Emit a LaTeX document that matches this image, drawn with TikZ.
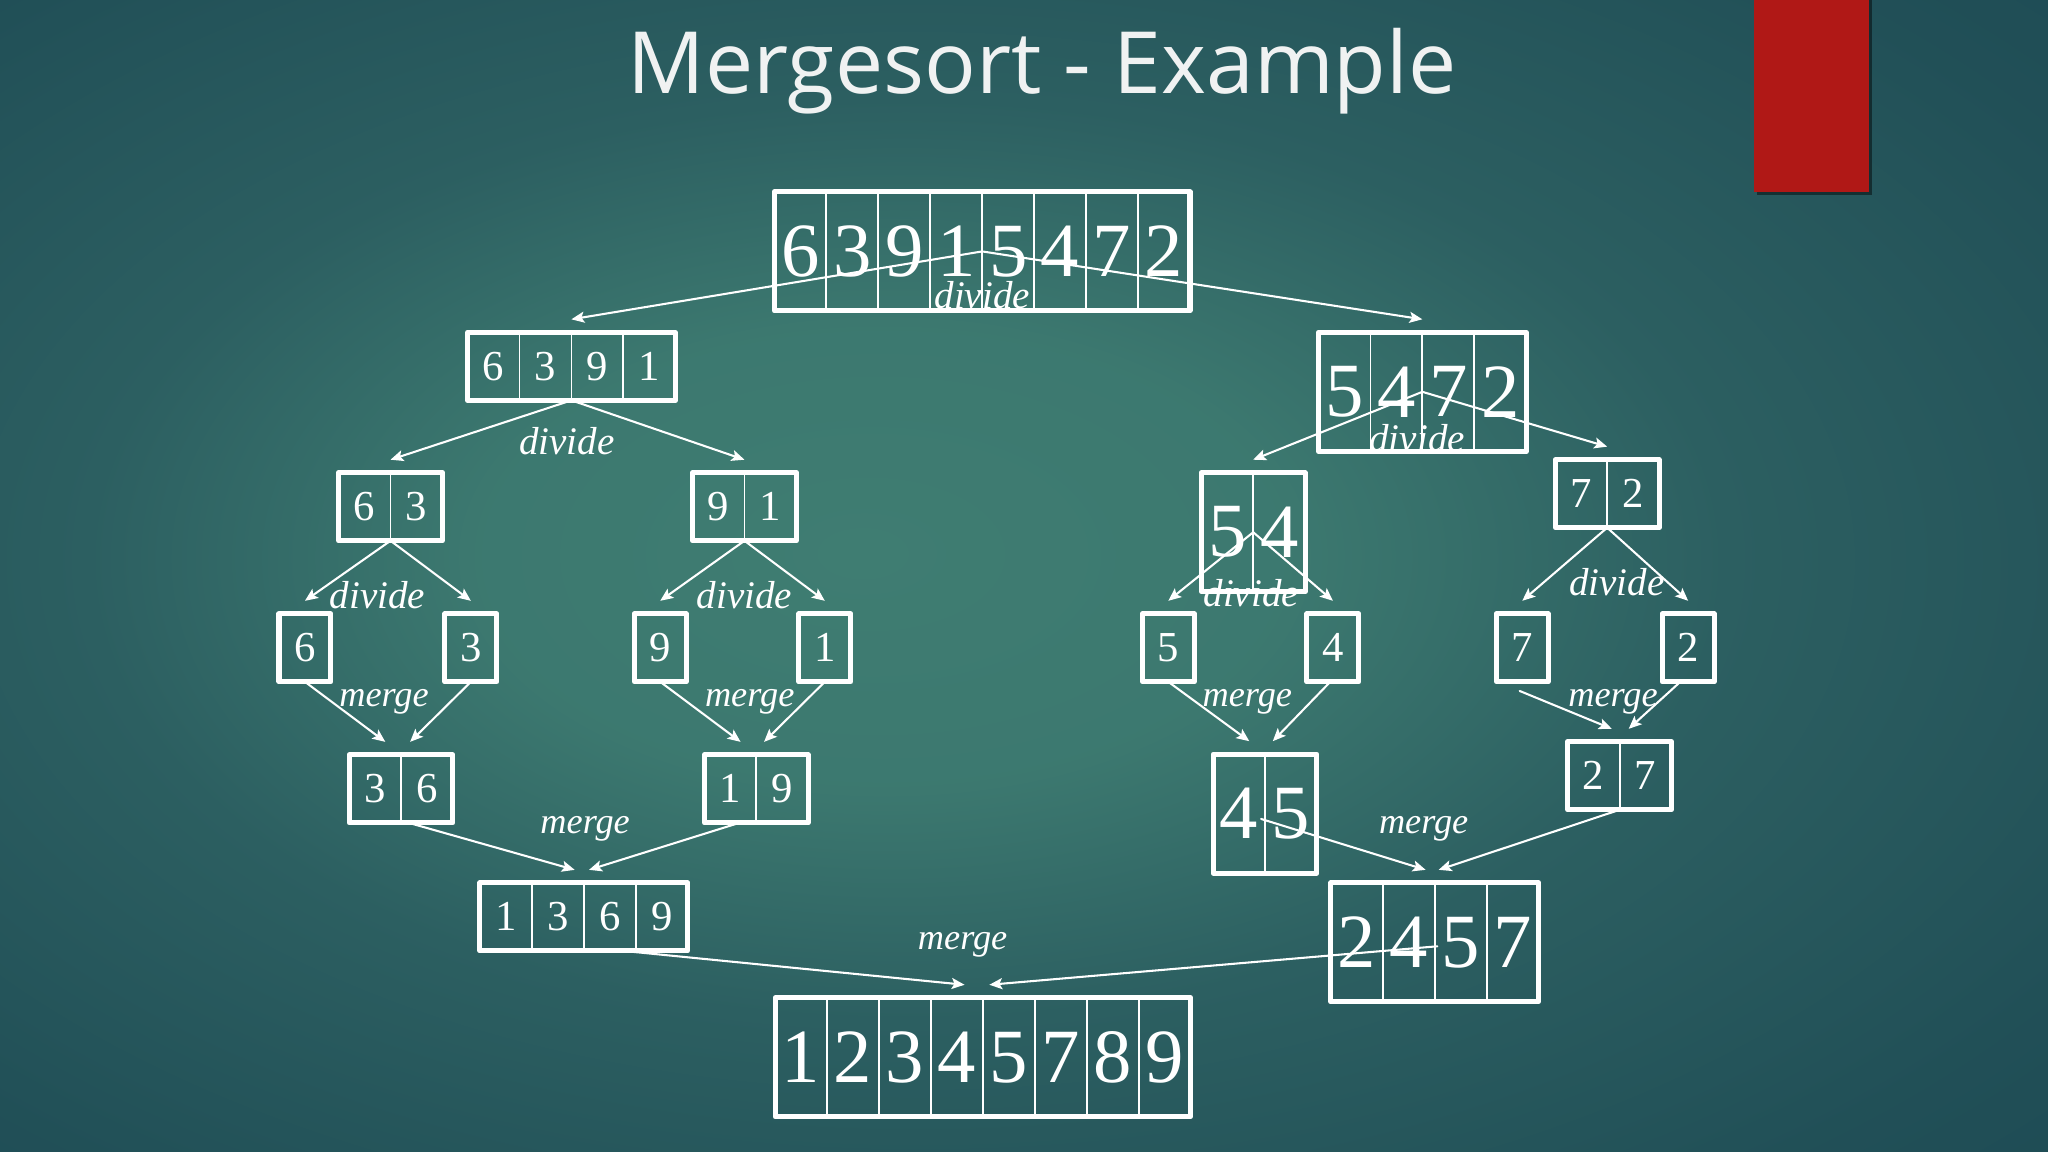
\documentclass[tikz,border=0pt]{standalone}
\usepackage{fontspec}
\setmainfont{Liberation Serif}
\newfontfamily\titlefont{Open Sans}
\usetikzlibrary{arrows.meta}
\definecolor{bgin}{HTML}{3F7D72}
\definecolor{bgmid}{HTML}{2C5F61}
\definecolor{bgout}{HTML}{18434F}
\definecolor{bgcorner}{HTML}{143744}
\definecolor{slidered}{HTML}{B01816}
\definecolor{titlewhite}{HTML}{F0F2F2}
\pgfdeclareradialshading{slidebg}{\pgfpoint{-4bp}{1bp}}{color(0bp)=(bgin); color(10bp)=(bgin!85!bgmid); color(20bp)=(bgmid); color(33bp)=(bgmid!45!bgout); color(50bp)=(bgout); color(70bp)=(bgcorner)}
\tikzset{
	frame/.style={draw=white,line width=1.1pt,inner sep=0pt,outer sep=0pt},
	smallframe/.style={minimum height=0.52cm},
	bigframe/.style={minimum height=0.91cm},
	divider/.style={draw=white,line width=0.4pt},
	digitsmall/.style={font=\fontsize{9.3}{10}\selectfont,text=white,inner sep=0pt},
	digitbig/.style={font=\fontsize{16.7}{18}\selectfont,text=white,inner sep=0pt},
	arr/.style={-{Stealth[length=2.8pt,width=2.4pt,inset=0.6pt]},draw=white,line width=0.45pt},
	lbl/.style={font=\itshape\fontsize{8.5}{9}\selectfont,text=white,anchor=base,inner sep=0pt},
	lblm/.style={lbl,font=\itshape\fontsize{7.9}{9}\selectfont},
}
% #1 name, #2/#3 centre, #4 number of cells, #5 small/big, #6 digits
\newcommand{\cells}[6]{%
	\node[frame,#5frame,minimum width={#4*0.3975cm}] (#1) at (#2,#3) {};
	\foreach \d [count=\i] in {#6}{
		\node[digit#5] (#1-\i) at ([xshift={(\i-0.5)*0.3975cm}]#1.west) {\d};
		\ifnum\i>1 \draw[divider] ([xshift={(\i-1)*0.3975cm}]#1.north west) -- ([xshift={(\i-1)*0.3975cm}]#1.south west);\fi
	}
}
\begin{document}
\begin{tikzpicture}[x=0.01cm,y=-0.01cm,line join=round,line cap=round]
	\shade[shading=slidebg] (0,0) rectangle (1568,882);
	\useasboundingbox (0,0) rectangle (1568,882);
	\fill[black,opacity=0.45] (1345,0) rectangle (1433,149.5);
	\fill[slidered] (1343,0) rectangle (1431,147);
	\node[font=\titlefont\fontsize{18.7}{22}\selectfont,text=titlewhite,anchor=base] (title) at (798,71.5) {Mergesort - Example};
	% divide
	\cells{top}{752}{192.5}{8}{big}{6,3,9,1,5,4,7,2}
	\cells{L}{437.5}{280.5}{4}{small}{6,3,9,1}
	\cells{R}{1089}{300}{4}{big}{5,4,7,2}
	\cells{LL}{299}{388}{2}{small}{6,3}
	\cells{LR}{570}{388}{2}{small}{9,1}
	\cells{RL}{959.5}{407.5}{2}{big}{5,4}
	\cells{RR}{1230.5}{378}{2}{small}{7,2}
	\foreach \n/\px/\v in {s6/233.5/6,s3/360.5/3,s9/505.5/9,s1/631.5/1,s5/894.5/5,s4/1020.5/4,s7/1165.5/7,s2/1292.5/2}{
		\cells{\n}{\px}{496}{1}{small}{\v}
	}
	% merge
	\cells{m36}{307}{604}{2}{small}{3,6}
	\cells{m19}{579}{604}{2}{small}{1,9}
	\cells{m45}{968.5}{623}{2}{big}{4,5}
	\cells{m27}{1240}{594}{2}{small}{2,7}
	\cells{m1369}{447}{702}{4}{small}{1,3,6,9}
	\cells{m2457}{1098.5}{721.5}{4}{big}{2,4,5,7}
	\cells{final}{752.5}{809.5}{8}{big}{1,2,3,4,5,7,8,9}
	\foreach \f/\t in {top.center/L,top.center/R,L.south/LL,L.south/LR,R.center/RL,R.center/RR,LL.south/s6,LL.south/s3,LR.south/s9,LR.south/s1,RL.center/s5,RL.center/s4,RR.south/s7,RR.south/s2}
		\draw[arr] (\f) -- ([shift={(0,-10)}]\t.north);
	\foreach \f/\fx/\fy/\t/\tx in {s6.south/0/0/m36/-12,s3.south/0/0/m36/7,s9.south/0/0/m19/-12,s1.south/0/0/m19/6,s5.south/0/0/m45/-12,s4.south/-2/0/m45/6,s7.south/-2/7/m27/-6,s2.south/-6/0/m27/7,m36.south/6/0/m1369/-7,m19.south/-13/0/m1369/4,m45.center/-3/4/m2457/-7,m27.south/0/0/m2457/3,m1369.south/30/0/final/-14,m2457.center/2/3/final/5}
		\draw[arr] ([shift={(\fx,\fy)}]\f) -- ([shift={(\tx,-10)}]\t.north);
	\foreach \x/\y [count=\k] in {752/236,434/348,1085/346,289/466,570/466,958/464,1238/456}
		\node[lbl] (divide\k) at (\x,\y) {divide};
	\foreach \x/\y [count=\k] in {294/541,574/541,955/541,1235/541,448/638,1090/638,737/727}
		\node[lblm] (merge\k) at (\x,\y) {merge};
\end{tikzpicture}
\end{document}
